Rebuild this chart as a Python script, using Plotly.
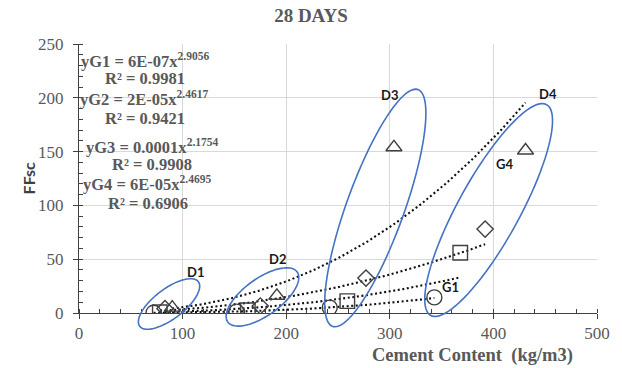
import numpy as np
import plotly.graph_objects as go

# ---- data: cement content (kg/m3) vs FFsc at 28 days, four groups ----
g1_x = [72, 152, 242, 343]
g1_y = [0.3, 1.3, 5.0, 14.5]
g2_x = [78, 163, 259, 368]
g2_y = [0.7, 2.6, 11.0, 56.0]
g3_x = [83, 175, 277, 392]
g3_y = [4.0, 6.5, 32.5, 78.0]
g4_x = [90, 191, 304, 431]
g4_y = [5.0, 16.0, 154.0, 151.0]

# power trendlines y = a * x^b
coef_a = [6.0e-7, 1.6e-5, 1.46e-4, 6.1e-5]
expo_b = [2.9056, 2.4617, 2.1754, 2.4695]
r_sq = [0.9981, 0.9421, 0.9908, 0.6906]
group_names = ["G1", "G2", "G3", "G4"]

x_ticks = [0, 100, 200, 300, 400, 500]
y_ticks = [0, 50, 100, 150, 200, 250]

# group ellipses: centre (data units), semi-axes (px), tilt (deg)
ell_names = ["D1", "D2", "D3", "D4"]
ell_cx = [86.9, 177.1, 286.0, 395.4]
ell_cy = [8.4, 14.9, 97.6, 95.7]
ell_a = [37.0, 43.0, 126.0, 120.5]
ell_b = [15.0, 18.5, 29.0, 31.0]
ell_t = [37.0, 35.5, 70.0, 61.0]

# ---- layout geometry ----
W, H = 622, 368
ML, MR, MT, MB = 79, 21, 44, 55
X_MAX, Y_MAX = 500, 250
px_x = (W - ML - MR) / X_MAX
px_y = (H - MT - MB) / Y_MAX

GREY = "#595959"
MARK = "#404040"
BLUE = "#4472c4"

series = [
    (g1_x, g1_y, "circle-open", 15),
    (g2_x, g2_y, "square-open", 14.5),
    (g3_x, g3_y, "diamond-open", 12.5),
    (g4_x, g4_y, "triangle-up-open", 14),
]

fig = go.Figure()

# trendlines
for (xs, ys, sym, sz), a, b, nm in zip(series, coef_a, expo_b, group_names):
    xx = np.linspace(min(xs), max(xs), 120)
    fig.add_trace(go.Scatter(
        x=xx, y=a * xx ** b, mode="lines", name="fit " + nm,
        line=dict(color="#111111", width=2.1, dash="2px,2.6px"),
        showlegend=False, hoverinfo="skip"))

# markers
for (xs, ys, sym, sz), nm in zip(series, group_names):
    fig.add_trace(go.Scatter(
        x=xs, y=ys, mode="markers", name=nm,
        marker=dict(symbol=sym, size=sz, color=MARK, line=dict(color=MARK, width=1.4)),
        showlegend=False))

# ellipses drawn as closed paths in paper coordinates so they may cross the axes
shapes = []
tt = np.linspace(0, 2 * np.pi, 90)
for cx, cy, a, b, t in zip(ell_cx, ell_cy, ell_a, ell_b, ell_t):
    th = np.radians(t)
    dx = a * np.cos(tt) * np.cos(th) - b * np.sin(tt) * np.sin(th)
    dy = a * np.cos(tt) * np.sin(th) + b * np.sin(tt) * np.cos(th)
    xs = (cx + dx / px_x) / X_MAX
    ys = (cy + dy / px_y) / Y_MAX
    path = "M " + " L ".join(f"{x:.5f},{y:.5f}" for x, y in zip(xs, ys)) + " Z"
    shapes.append(dict(type="path", path=path, xref="paper", yref="paper",
                       line=dict(color=BLUE, width=1.6), fillcolor="rgba(0,0,0,0)"))

annotations = []

# group labels
lab_text = ["D1", "D2", "D3", "D4", "G4", "G1"]
lab_x = [112, 192, 300, 453, 411, 359]
lab_y = [38, 50, 203, 204, 138.5, 24.4]
for t, x, y in zip(lab_text, lab_x, lab_y):
    annotations.append(dict(x=x, y=y, xref="x", yref="y", text=f"<b>{t}</b>",
                            showarrow=False, font=dict(family="Lato", size=13, color="#1a1a1a")))


def fmt_coef(a):
    return f"{a:.4f}" if a >= 1e-4 else f"{a:.0E}"


# trendline equations and R²
eq_x = [63.7, 63.2, 70.5, 65.6]
eq_y = [235.0, 199.6, 155.0, 120.4]
r2_x = [63.7, 63.7, 70.9, 67.0]
r2_y = [218.1, 181.0, 138.0, 102.0]
for nm, a, b, r, ex, ey, rx, ry in zip(group_names, coef_a, expo_b, r_sq, eq_x, eq_y, r2_x, r2_y):
    annotations.append(dict(
        x=ex, y=ey, xref="x", yref="y", showarrow=False,
        text=f"<b>y{nm} = {fmt_coef(a)}x<sup>{b:.4f}</sup></b>",
        font=dict(family="Liberation Serif", size=16.5, color=GREY)))
    annotations.append(dict(
        x=rx, y=ry, xref="x", yref="y", showarrow=False,
        text=f"<b>R² = {r:.4f}</b>",
        font=dict(family="Liberation Serif", size=16.5, color=GREY)))

# axis titles
annotations.append(dict(x=(476 - ML) / (W - ML - MR), y=(H - MB - 355) / (H - MT - MB),
                        xref="paper", yref="paper", xanchor="center", yanchor="middle",
                        showarrow=False,
                        text="<b>Cement Content\u00a0 (kg/m3)</b>",
                        font=dict(family="Liberation Serif", size=18.5, color=GREY)))
annotations.append(dict(x=(28 - ML) / (W - ML - MR), y=(H - MB - 178) / (H - MT - MB),
                        xref="paper", yref="paper", xanchor="center", yanchor="middle",
                        showarrow=False, textangle=-90,
                        text="<b>FFsc</b>",
                        font=dict(family="Lato", size=16, color="#404040")))

fig.update_layout(
    width=W, height=H,
    margin=dict(l=ML, r=MR, t=MT, b=MB),
    paper_bgcolor="white", plot_bgcolor="white",
    title=dict(text="<b>28 DAYS</b>", x=0.5, xref="container", xanchor="center",
               y=1 - 15 / H, yref="container", yanchor="middle",
               font=dict(family="Liberation Serif", size=19, color=GREY)),
    shapes=shapes, annotations=annotations,
    xaxis=dict(range=[0, X_MAX], tickvals=x_ticks, showgrid=True, gridcolor="#d9d9d9",
               gridwidth=1, zeroline=False, showline=True, linecolor="#404040", linewidth=1,
               ticks="outside", ticklen=5, tickcolor="#404040",
               minor=dict(dtick=20, ticks="inside", ticklen=4, tickcolor="#404040", showgrid=False),
               tickfont=dict(family="Liberation Serif", size=17, color=GREY)),
    yaxis=dict(range=[0, Y_MAX], tickvals=y_ticks, showgrid=True, gridcolor="#d9d9d9",
               gridwidth=1, zeroline=False, showline=True, linecolor="#404040", linewidth=1,
               ticks="outside", ticklen=5, tickcolor="#404040", ticklabelstandoff=6,
               minor=dict(dtick=10, ticks="inside", ticklen=4, tickcolor="#404040", showgrid=False),
               tickfont=dict(family="Liberation Serif", size=17, color=GREY)),
    # companion axes supply the inner half of the crossing major ticks
    xaxis2=dict(range=[0, X_MAX], overlaying="x", anchor="y", side="bottom", tickvals=x_ticks,
                ticks="inside", ticklen=4, tickcolor="#404040", showticklabels=False,
                showgrid=False, zeroline=False, showline=False),
    yaxis2=dict(range=[0, Y_MAX], overlaying="y", anchor="x", side="left", tickvals=y_ticks,
                ticks="inside", ticklen=4, tickcolor="#404040", showticklabels=False,
                showgrid=False, zeroline=False, showline=False),
)
# an invisible trace binds the companion axes
fig.add_trace(go.Scatter(x=[None], y=[None], xaxis="x2", yaxis="y2", showlegend=False,
                         hoverinfo="skip"))

fig.write_html("out.html")
